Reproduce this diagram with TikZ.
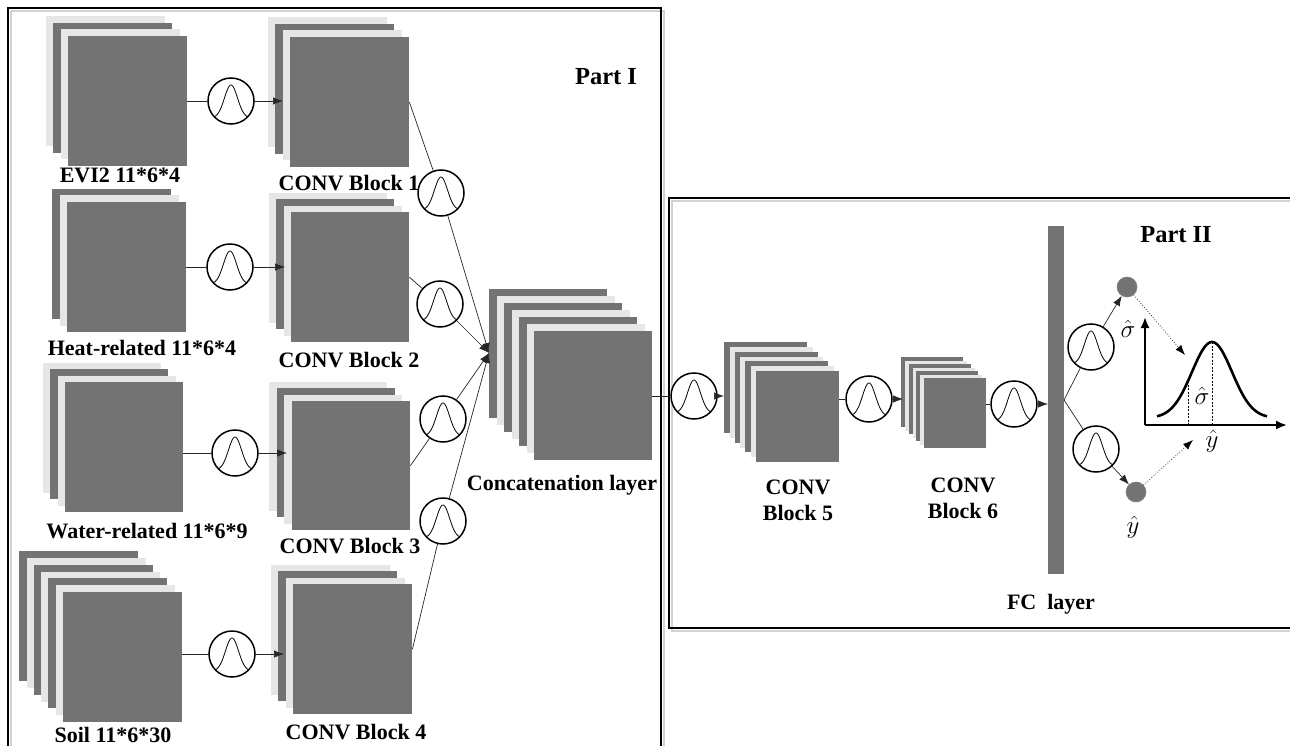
\RequirePackage{fix-cm}
\documentclass[tikz,border=0pt]{standalone}
\usepackage{fontspec}
\setmainfont{Liberation Serif}
\usetikzlibrary{arrows.meta}
\definecolor{dk}{HTML}{737373}
\definecolor{lt}{HTML}{E6E6E6}
\tikzset{
  front/.style={fill=dk, draw=none, inner sep=0pt, anchor=north west},
  act/.style={circle, draw=black, line width=1.5pt, fill=white, minimum size=46pt, inner sep=0pt,
    path picture={\draw[line width=0.8pt, shift={(path picture bounding box.center)}]
      plot[domain=-22:22, samples=60, smooth] (\x,{17-33*exp(-((\x)*(\x))/85)});}},
  outc/.style={circle, draw=gray, fill=dk, line width=0.6pt, minimum size=20pt, inner sep=0pt},
  conn/.style={line width=0.7pt, draw=black!85},
  arr/.style={conn, -{Latex[length=10pt,width=7.5pt]}},
  dotarr/.style={line width=0.7pt, dotted, -{Latex[length=10pt,width=7.5pt]}},
  axisarr/.style={line width=2pt, -{Latex[length=11pt,width=9pt]}},
  guide/.style={line width=0.7pt, dash pattern=on 2pt off 1.5pt},
  lbl/.style={font=\bfseries\fontsize{22}{26}\selectfont, inner sep=0pt, anchor=base},
  plbl/.style={font=\bfseries\fontsize{24.5}{28}\selectfont, inner sep=0pt, anchor=base},
  mlbl/.style={font=\fontsize{25}{28}\selectfont, inner sep=0pt},
  boxline/.style={line width=2pt, draw=black},
  boxshadow/.style={line width=2.5pt, draw=gray!35}
}
% #1 name, #2 x, #3 y (front top-left), #4 w, #5 h, #6 number of back layers, #7 dx, #8 dy
\newcommand\layerstack[8]{%
  \foreach \kk in {#6,...,1}{%
    \ifodd\kk\relax\def\lcol{lt}\else\def\lcol{dk}\fi
    \fill[\lcol] ({#2-\kk*#7},{#3-\kk*#8}) rectangle ++(#4,#5);
  }%
  \node[front, minimum width=#4pt, minimum height=#5pt] (#1) at (#2,#3) {};
}
\begin{document}
\begin{tikzpicture}[x=1pt,y=-1pt]
\path[use as bounding box] (0,0) rectangle (1290,746);
\fill[white] (0,0) rectangle (1290,746);
\clip (0,0) rectangle (1290,746);

% frames
\draw[boxshadow] (11,11) rectangle (664,800);
\draw[boxline] (8,8) rectangle (661,800);
\draw[boxshadow] (672,201) rectangle (1310,631);
\draw[boxline] (669,198) rectangle (1310,628);

% layer stacks
\layerstack{in1}{68}{36}{119}{130}{3}{7.3}{6.6}
\layerstack{c1}{290}{37}{119}{130}{3}{7.3}{6.7}
\layerstack{in2}{67}{202}{119}{130}{2}{7.3}{6.5}
\layerstack{c2}{291}{212}{118}{130}{3}{7.3}{6.4}
\layerstack{in3}{65}{382}{118}{130}{3}{7.3}{6.3}
\layerstack{c3}{292}{401}{118}{129}{3}{7.6}{6.3}
\layerstack{in4}{63}{592}{119}{130}{6}{7.3}{6.8}
\layerstack{c4}{293}{584}{119}{130}{3}{7.3}{6.3}
\layerstack{cat}{534}{331}{118}{129}{6}{7.5}{7}
\layerstack{c5}{756}{371}{83}{91}{6}{5.3}{4.8}
\layerstack{c6}{924}{378}{62}{70}{6}{3.8}{3.5}
\node[front, minimum width=16pt, minimum height=348pt] (fc) at (1048,226) {};

% labels
\node[lbl] (l1) at (120,183) {EVI2 11*6*4};
\node[lbl] (lc1) at (349,191) {CONV Block 1};
\node[lbl] (l2) at (142,355) {Heat-related 11*6*4};
\node[lbl] (lc2) at (349,367) {CONV Block 2};
\node[lbl] (l3) at (147,538) {Water-related 11*6*9};
\node[lbl] (lc3) at (350,553) {CONV Block 3};
\node[lbl] (l4) at (113,742) {Soil 11*6*30};
\node[lbl] (lc4) at (356,739) {CONV Block 4};
\node[lbl] (lcat) at (562,490) {Concatenation layer};
\node[plbl] (p1) at (606,85) {Part I};
\node[plbl] (p2) at (1176,243) {Part II};
\node[lbl, anchor=north, align=center] (lc5) at (798,480) {CONV\\Block 5};
\node[lbl, anchor=north, align=center] (lc6) at (963,478) {CONV\\Block 6};
\node[lbl] (lfc) at (1051,609) {FC\ \ layer};

% activation circles
\node[act] (a1) at (231,101) {};
\node[act] (a2) at (230,267) {};
\node[act] (a3) at (235,453) {};
\node[act] (a4) at (232,654) {};
\node[act] (b1) at (441,193) {};
\node[act] (b2) at (440,304) {};
\node[act] (b3) at (443,419) {};
\node[act] (b4) at (443,521) {};
\node[act] (d1) at (694,396) {};
\node[act] (d2) at (869,399) {};
\node[act] (d3) at (1014,404) {};
\node[act] (e1) at (1091,347) {};
\node[act] (e2) at (1096,449) {};
\node[outc] (s1) at (1127,287) {};
\node[outc] (s2) at (1136,492) {};

\coordinate (catin) at (489,353);
\coordinate (fco) at (1064,400);

% Part I connectors
\draw[conn] (in1.east |- a1) -- (a1);
\draw[arr, shorten >=7pt] (a1) -- (a1 -| c1.west);
\draw[conn] (in2.east |- a2) -- (a2);
\draw[arr, shorten >=6pt] (a2) -- (a2 -| c2.west);
\draw[conn] (in3.east |- a3) -- (a3);
\draw[arr, shorten >=5pt] (a3) -- (a3 -| c3.west);
\draw[conn] (in4.east |- a4) -- (a4);
\draw[arr, shorten >=9pt] (a4) -- (a4 -| c4.west);

\draw[conn] (c1.east) -- (b1);
\draw[arr] (b1) -- (catin);
\draw[conn] (c2.east) -- (b2);
\draw[arr] (b2) -- (catin);
\draw[conn] (c3.east) -- (b3);
\draw[arr] (b3) -- (catin);
\draw[conn] (c4.east) -- (b4);
\draw[arr] (b4) -- (catin);

% Part II connectors
\draw[conn] (cat.east |- d1) -- (d1);
\draw[arr, shorten >=32pt] (d1) -- (d1 -| c5.west);
\draw[conn] (c5.east |- d2) -- (d2);
\draw[arr, shorten >=21pt] (d2) -- (d2 -| c6.west);
\draw[conn] (c6.east |- d3) -- (d3);
\draw[arr] (d3) -- (d3 -| fc.west);

\draw[conn] (fco) -- (e1);
\draw[arr] (e1) -- (s1);
\draw[conn] (fco) -- (e2);
\draw[arr] (e2) -- (s2);

\coordinate (t1) at (1185,355);
\coordinate (t2) at (1193,440);
\draw[dotarr] (s1) -- (t1);
\draw[dotarr] (s2) -- (t2);

% distribution plot
\coordinate (o) at (1145,425);
\coordinate (ytop) at (1145,317);
\coordinate (xend) at (1287,425);
\draw[axisarr] (o) -- (ytop);
\draw[axisarr] (o) -- (xend);
\draw[line width=2.6pt] plot[domain=-55:55, samples=80, smooth] ({1212+\x},{418-76*exp(-((\x)*(\x))/800)});
\draw[guide] (1212,342) -- (1212,425);
\draw[guide] (1188,381) -- (1188,425);

\node[mlbl] (sg1) at (1128,329) {$\hat{\sigma}$};
\node[mlbl] (sg2) at (1202,396) {$\hat{\sigma}$};
\node[mlbl] (yh1) at (1212,441) {$\hat{y}$};
\node[mlbl] (yh2) at (1133,527) {$\hat{y}$};
\end{tikzpicture}
\end{document}
